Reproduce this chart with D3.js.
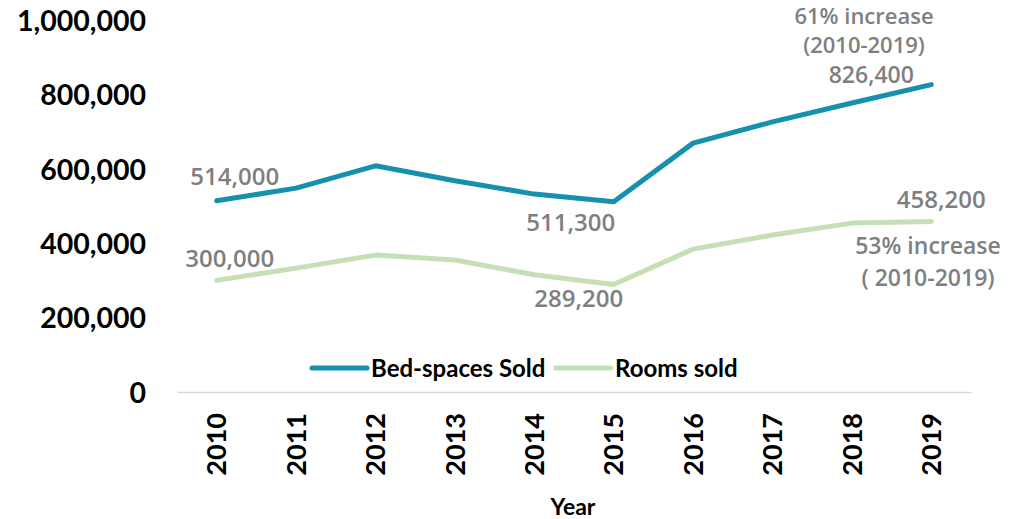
<!DOCTYPE html>
<html>
<head>
<meta charset="utf-8">
<script src="https://cdn.jsdelivr.net/npm/d3@7"></script>
<style>
  body { margin: 0; background: #fff; }
  svg text { font-family: Lato, "Open Sans", sans-serif; }
</style>
</head>
<body>
<div id="chart"></div>
<script>
const years = ["2010", "2011", "2012", "2013", "2014", "2015", "2016", "2017", "2018", "2019"];
const bedSpaces = [514000, 548000, 608000, 568000, 532000, 511300, 669000, 726000, 777000, 826400];
const roomsSold = [300000, 333000, 368000, 355000, 315000, 289200, 384000, 422000, 454000, 458200];
const yTicks = [0, 200000, 400000, 600000, 800000, 1000000];
const seriesNames = ["Bed-spaces Sold", "Rooms sold"];

const W = 1009, H = 519;
const margin = { top: 20, right: 38, bottom: 127, left: 177 };
const width = W - margin.left - margin.right,
  height = H - margin.top - margin.bottom;

const svg = d3.select("#chart").append("svg")
  .attr("width", W)
  .attr("height", H);

const g = svg.append("g")
  .attr("transform", "translate(" + margin.left + "," + margin.top + ")");

const x = d3.scaleBand()
  .domain(years)
  .range([0, width]);

const y = d3.scaleLinear()
  .domain([0, 1000000])
  .range([height, 0]);

const fmt = d3.format(",");

// y axis (labels only)
const yAxis = g.append("g")
  .attr("transform", "translate(-31,0)")
  .call(d3.axisLeft(y).tickValues(yTicks).tickFormat(fmt).tickSize(0));
yAxis.select(".domain").remove();
yAxis.selectAll("text")
  .attr("x", 0)
  .attr("dy", "0.36em")
  .style("font-size", "28.5px")
  .style("font-weight", "bold")
  .style("fill", "#000");

// x axis
const xAxis = g.append("g")
  .attr("transform", "translate(0," + height + ")")
  .call(d3.axisBottom(x).tickSize(0));
xAxis.select(".domain").attr("stroke", "#d9d9d9").attr("stroke-width", 1.5);
xAxis.selectAll("text")
  .attr("transform", "rotate(-90)")
  .attr("x", -21)
  .attr("y", 0)
  .attr("dy", "0.36em")
  .style("text-anchor", "end")
  .style("font-size", "27px")
  .style("font-weight", "bold")
  .style("fill", "#000");

svg.append("text")
  .attr("x", margin.left + width / 2 - 1)
  .attr("y", 515)
  .attr("text-anchor", "middle")
  .style("font-size", "23px")
  .style("font-weight", "bold")
  .text("Year");

const line = d3.line()
  .x((d, i) => x(years[i]) + x.bandwidth() / 2)
  .y(d => y(d));

const colors = ["#1590ad", "#c5e0b4"];
[bedSpaces, roomsSold].forEach((s, k) => {
  g.append("path")
    .datum(s)
    .attr("fill", "none")
    .attr("stroke", colors[k])
    .attr("stroke-width", 5)
    .attr("stroke-linecap", "round")
    .attr("stroke-linejoin", "round")
    .attr("d", line);
});

// legend
const legendItems = [{ x: 312, name: seriesNames[0] }, { x: 556, name: seriesNames[1] }];
legendItems.forEach((d, k) => {
  svg.append("line")
    .attr("x1", d.x).attr("x2", d.x + 55)
    .attr("y1", 368).attr("y2", 368)
    .attr("stroke", colors[k])
    .attr("stroke-width", 5)
    .attr("stroke-linecap", "round");
  svg.append("text")
    .attr("x", d.x + 59)
    .attr("y", 368)
    .attr("dy", "0.36em")
    .style("font-size", "24px")
    .style("font-weight", "bold")
    .text(d.name);
});

// annotations
const cx = i => margin.left + x(years[i]) + x.bandwidth() / 2;
const cy = v => margin.top + y(v);
const notes = [
  { x: cx(0) + 18, y: cy(bedSpaces[0]) - 24, t: fmt(bedSpaces[0]), s: 24 },
  { x: cx(0) + 13, y: cy(roomsSold[0]) - 22, t: fmt(roomsSold[0]), s: 24 },
  { x: cx(5) - 43, y: cy(bedSpaces[5]) + 21, t: fmt(bedSpaces[5]), s: 24 },
  { x: cx(5) - 35, y: cy(roomsSold[5]) + 14, t: fmt(roomsSold[5]), s: 24 },
  { x: 864, y: 16, t: "61% increase", s: 22 },
  { x: 864, y: 45, t: "(2010-2019)", s: 22 },
  { x: cx(9) - 60, y: cy(bedSpaces[9]) - 10, t: fmt(bedSpaces[9]), s: 23 },
  { x: cx(9) + 10, y: cy(roomsSold[9]) - 22, t: fmt(roomsSold[9]), s: 24 },
  { x: 928, y: 246, t: "53% increase", s: 23 },
  { x: 928, y: 278, t: "( 2010-2019)", s: 23 }
];
svg.selectAll(".note")
  .data(notes)
  .enter().append("text")
  .attr("class", "note")
  .attr("x", d => d.x)
  .attr("y", d => d.y)
  .attr("dy", "0.36em")
  .attr("text-anchor", "middle")
  .style("font-size", d => d.s + "px")
  .style("font-family", "'Open Sans', sans-serif")
  .style("font-weight", 600)
  .style("fill", "#7f7f7f")
  .text(d => d.t);
</script>
</body>
</html>
